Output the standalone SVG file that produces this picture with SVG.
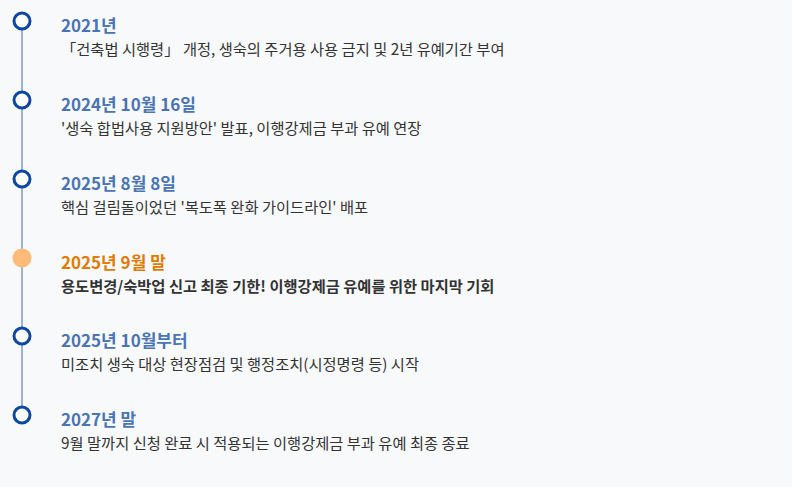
<svg xmlns="http://www.w3.org/2000/svg" width="792" height="487" viewBox="0 0 792 487">
<style>
.t{font-family:"Noto Sans CJK KR","Noto Sans",sans-serif;font-size:17px;font-weight:bold;fill:#4a74b4}
.d{font-family:"Noto Sans CJK KR","Noto Sans",sans-serif;font-size:15.3px;fill:#333}
.c{fill:#fff;stroke:#0d47a1;stroke-width:3}
</style>
<rect width="792" height="487" fill="#f8f9fb"/>
<g id="connectors"><line x1="22" y1="22" x2="22" y2="415" stroke="#7a9acb" stroke-width="1.5"/></g>
<g id="n1"><circle class="c" cx="22" cy="21" r="8"/><text class="t" x="61" y="32">2021년</text><text class="d" x="61" y="55">「건축법 시행령」 개정, 생숙의 주거용 사용 금지 및 2년 유예기간 부여</text></g>
<g id="n2"><circle class="c" cx="22" cy="100" r="8"/><text class="t" x="61" y="111">2024년 10월 16일</text><text class="d" x="61" y="134">'생숙 합법사용 지원방안' 발표, 이행강제금 부과 유예 연장</text></g>
<g id="n3"><circle class="c" cx="22" cy="179" r="8"/><text class="t" x="61" y="190">2025년 8월 8일</text><text class="d" x="61" y="213">핵심 걸림돌이었던 '복도폭 완화 가이드라인' 배포</text></g>
<g id="n4"><circle cx="22" cy="258" r="9.5" fill="#ffbb77"/><text class="t" x="61" y="269" style="fill:#e07b00">2025년 9월 말</text><text class="d" x="61" y="292" style="font-weight:bold">용도변경/숙박업 신고 최종 기한! 이행강제금 유예를 위한 마지막 기회</text></g>
<g id="n5"><circle class="c" cx="22" cy="336" r="8"/><text class="t" x="61" y="347">2025년 10월부터</text><text class="d" x="61" y="370">미조치 생숙 대상 현장점검 및 행정조치(시정명령 등) 시작</text></g>
<g id="n6"><circle class="c" cx="22" cy="415" r="8"/><text class="t" x="61" y="426">2027년 말</text><text class="d" x="61" y="449">9월 말까지 신청 완료 시 적용되는 이행강제금 부과 유예 최종 종료</text></g>
</svg>
